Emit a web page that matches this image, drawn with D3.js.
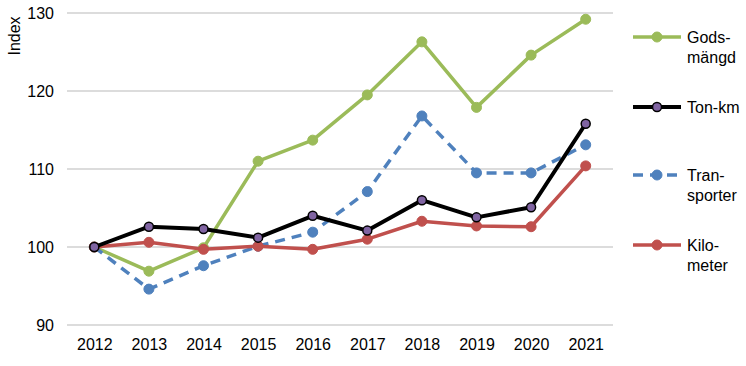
<!DOCTYPE html>
<html>
<head>
<meta charset="utf-8">
<script src="https://cdn.jsdelivr.net/npm/d3@7"></script>
<style>
  body { margin: 0; background: #fff; }
  text { font-family: "Liberation Sans", Arial, sans-serif; fill: #000; }
</style>
</head>
<body>
<div id="chart"></div>
<script>
// data
const years = ["2012", "2013", "2014", "2015", "2016", "2017", "2018", "2019", "2020", "2021"];
const godsmangd = [100, 96.9, 99.9, 111.0, 113.7, 119.5, 126.3, 117.9, 124.6, 129.2];
const tonkm = [100, 102.6, 102.3, 101.2, 104.0, 102.1, 106.0, 103.8, 105.1, 115.8];
const transporter = [100, 94.6, 97.6, 100.1, 101.9, 107.1, 116.8, 109.5, 109.5, 113.1];
const kilometer = [100, 100.6, 99.7, 100.1, 99.7, 101.0, 103.3, 102.7, 102.6, 110.4];
const yTicks = [90, 100, 110, 120, 130];

const series = [
  { name: ["Gods-", "mängd"], values: godsmangd, color: "#9BBB59", width: 3.5, dash: null, fill: "#9BBB59", stroke: "#9BBB59", ly: 37 },
  { name: ["Ton-km"], values: tonkm, color: "#000", width: 4, dash: null, fill: "#8064A2", stroke: "#000", ly: 107 },
  { name: ["Tran-", "sporter"], values: transporter, color: "#4F81BD", width: 3.5, dash: "10,7", fill: "#4F81BD", stroke: "#4F81BD", ly: 175 },
  { name: ["Kilo-", "meter"], values: kilometer, color: "#C0504D", width: 3.5, dash: null, fill: "#C0504D", stroke: "#C0504D", ly: 245 }
];

const W = 746, H = 366;
const margin = { top: 13, left: 67, right: 133, bottom: 41 };
const width = W - margin.left - margin.right;
const height = H - margin.top - margin.bottom;
const fontSize = "16px";

const svg = d3.select("#chart")
  .append("svg")
  .attr("width", W)
  .attr("height", H)
  .append("g")
  .attr("transform", `translate(${margin.left}, ${margin.top})`);

const x = d3.scalePoint()
  .domain(years)
  .range([0, width])
  .padding(0.5);

const y = d3.scaleLinear()
  .domain([90, 130])
  .range([height, 0]);

// gridlines
svg.append("g")
  .selectAll("line")
  .data(yTicks)
  .join("line")
    .attr("x1", 0)
    .attr("x2", width)
    .attr("y1", d => y(d))
    .attr("y2", d => y(d))
    .attr("stroke", "#d0d0d0")
    .attr("stroke-width", 1.3);

// Y axis
const yAxis = svg.append("g")
  .call(d3.axisLeft(y).tickValues(yTicks).tickSize(0).tickPadding(13));
yAxis.select(".domain").remove();
yAxis.selectAll("text").style("font-size", fontSize).style("font-family", "Liberation Sans, Arial, sans-serif");

// X axis
const xAxis = svg.append("g")
  .attr("transform", `translate(0, ${height})`)
  .call(d3.axisBottom(x).tickSize(0).tickPadding(14));
xAxis.select(".domain").remove();
xAxis.selectAll("text").style("font-size", fontSize).style("font-family", "Liberation Sans, Arial, sans-serif");

// y-axis label
svg.append("text")
  .attr("transform", "rotate(-90)")
  .attr("x", -23)
  .attr("y", -margin.left + 20)
  .style("text-anchor", "middle")
  .style("font-size", fontSize)
  .text("Index");

const line = d3.line()
  .x((d, i) => x(years[i]))
  .y(d => y(d));

// black line drawn on top
const drawOrder = [series[0], series[2], series[3], series[1]];
drawOrder.forEach(s => {
  svg.append("path")
    .datum(s.values)
    .attr("fill", "none")
    .attr("stroke", s.color)
    .attr("stroke-width", s.width)
    .attr("stroke-dasharray", s.dash)
    .attr("stroke-linejoin", "round")
    .attr("d", line);

  svg.append("g")
    .selectAll("circle")
    .data(s.values)
    .join("circle")
      .attr("cx", (d, i) => x(years[i]))
      .attr("cy", d => y(d))
      .attr("r", s.stroke === "#000" ? 4.5 : 5)
      .attr("fill", s.fill)
      .attr("stroke", s.stroke)
      .attr("stroke-width", s.stroke === "#000" ? 1.5 : 1);
});

// legend
const legend = svg.append("g")
  .attr("transform", `translate(${width + 20}, 0)`);

series.forEach(s => {
  const ly = s.ly - margin.top;
  legend.append("line")
    .attr("x1", 0)
    .attr("x2", 48)
    .attr("y1", ly)
    .attr("y2", ly)
    .attr("stroke", s.color)
    .attr("stroke-width", s.width)
    .attr("stroke-dasharray", s.dash ? "10,7" : null);
  legend.append("circle")
    .attr("cx", 24)
    .attr("cy", ly)
    .attr("r", s.stroke === "#000" ? 4.5 : 5)
    .attr("fill", s.fill)
    .attr("stroke", s.stroke)
    .attr("stroke-width", s.stroke === "#000" ? 1.5 : 1);
  s.name.forEach((t, i) => {
    legend.append("text")
      .attr("x", 54)
      .attr("y", ly + 6 + i * 20)
      .style("font-size", fontSize)
      .text(t);
  });
});
</script>
</body>
</html>
